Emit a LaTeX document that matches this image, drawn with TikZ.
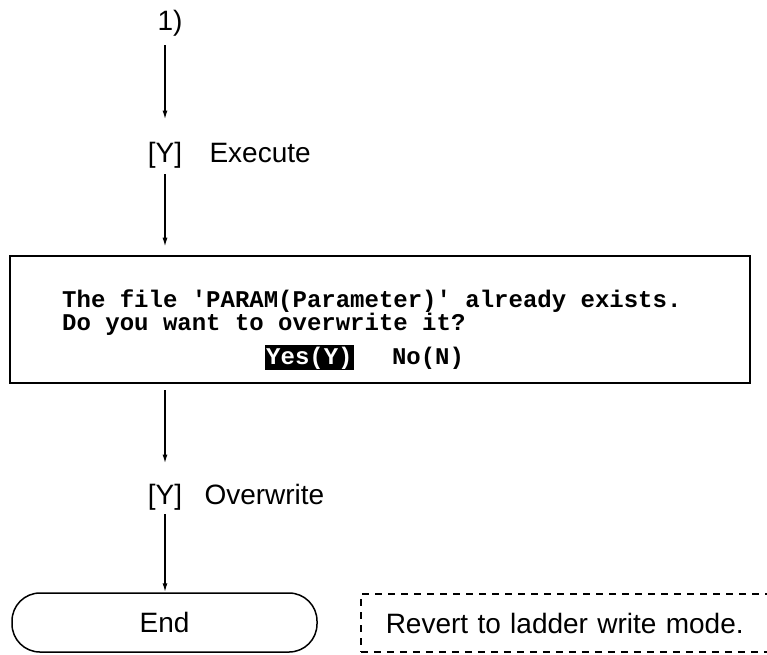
\documentclass[tikz,border=0pt]{standalone}
\usepackage{fontspec}
\setmainfont{Liberation Sans}
\newfontfamily\dlgfont{Liberation Mono}
\usetikzlibrary{arrows.meta,positioning}

\begin{document}
\begin{tikzpicture}[
  x=1pt, y=-1pt,
  lbl/.style={inner sep=0pt, font=\fontsize{28}{33}\selectfont},
  dlgtext/.style={inner sep=0pt, font=\dlgfont\bfseries\fontsize{24}{28}\selectfont},
  arr/.style={draw, line width=1.5pt, -{Latex[length=9pt, width=5pt]}},
]
  \useasboundingbox (0,0) rectangle (767,654);

  % labels along the flow
  \node[lbl, anchor=base] (start) at (170,30) {1)};
  \node[lbl, anchor=base] (yexec) at (165,162) {[Y]};
  \node[lbl, base right=27pt of yexec] (exec) {Execute};

  % dialog window
  \node[draw, line width=2.6pt, minimum width=740pt, minimum height=127pt] (dlg) at (380,319.5) {};
  \node[dlgtext, anchor=base west] (msga) at (62,307) {The file 'PARAM(Parameter)' already exists.};
  \node[dlgtext, anchor=base west] (msgb) at (62,330) {Do you want to overwrite it?};
  \node[dlgtext, anchor=base west, fill=black, text=white, inner xsep=1pt, inner ysep=1.5pt] (yes) at (265,364) {Yes(Y)};
  \node[dlgtext, base right=38pt of yes] (no) {No(N)};

  \node[lbl, anchor=base] (yover) at (165,504) {[Y]};
  \node[lbl, base right=22pt of yover] (over) {Overwrite};

  % terminal and note
  \node[lbl, draw, line width=1.5pt, rounded corners=28pt, minimum width=305pt, minimum height=59pt] (fin) at (164.5,622.5) {End};
  \node[lbl, draw, line width=1.5pt, dash pattern=on 7pt off 6pt, anchor=west, minimum height=58pt,
        text width=380pt, inner xsep=25pt, align=left] (note) at (360,623) {Revert to ladder write mode.};

  \draw[arr, shorten <=9pt, shorten >=22pt] (start.south -| yexec.north) -- (yexec.north);
  \draw[arr, shorten <=6pt, shorten >=8pt] (yexec.south) -- (yexec.south |- dlg.north);
  \draw[arr, shorten <=6pt, shorten >=20pt] (yover.north |- dlg.south) -- (yover.north);
  \draw[arr, shorten <=4pt] (yover.south) -- (yover.south |- fin.north);
\end{tikzpicture}
\end{document}
